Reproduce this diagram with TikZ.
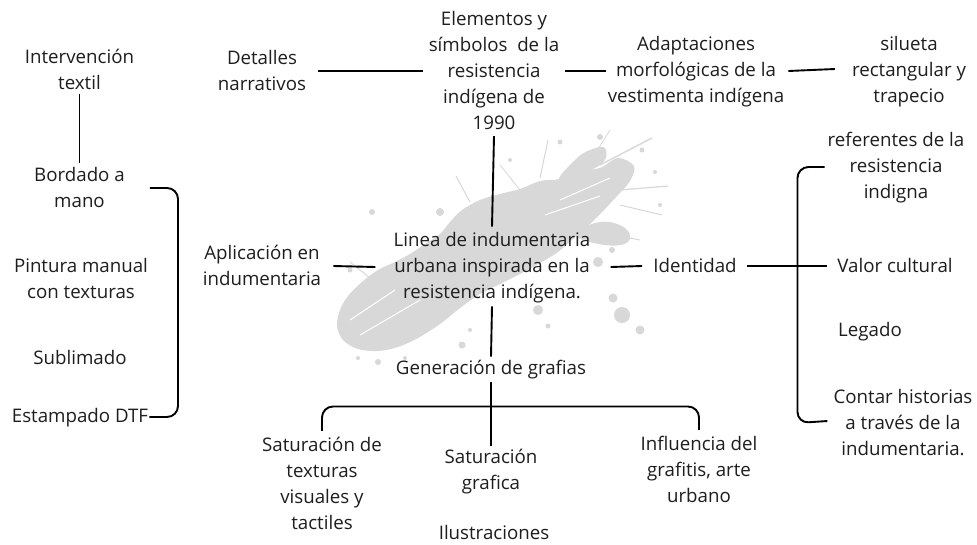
\documentclass[tikz,border=0pt]{standalone}
\usepackage{fontspec}
\setmainfont{Open Sans}
\usetikzlibrary{calc}
\definecolor{textgray}{HTML}{1E1E1E}
\definecolor{splash}{HTML}{D8D8D8}
\newcommand{\ls}{\vrule width0pt height16pt depth4pt}
\begin{document}
\begin{tikzpicture}[x=1pt,y=-1pt,
  txt/.style={font=\fontsize{18.7}{26}\selectfont, align=center, inner sep=0pt, text=textgray},
  ln/.style={line width=1.9pt, black},
  brk/.style={line width=1.9pt, black, rounded corners=11pt}]
\useasboundingbox[fill=white] (0,0) rectangle (977,544);

% ---- background splash ----
\begin{scope}[splash]
\fill plot[smooth cycle, tension=0.55] coordinates {
 (634,166) (618,158) (600,168) (580,171) (560,179) (540,181) (520,189)
 (500,194) (480,200) (462,210) (450,222) (440,234) (425,244) (410,254)
 (395,262) (378,270) (362,282) (348,296) (340,310) (337,326) (343,340)
 (358,349) (378,351) (398,347) (418,338) (440,324) (460,308)
 (480,294) (500,284) (520,274) (540,263) (558,252) (574,238) (590,224)
 (604,210) (618,195) (630,181)};
\fill plot[smooth cycle, tension=0.7] coordinates {
 (560,180) (575,160) (590,150) (605,148) (600,165)};
\fill plot[smooth cycle, tension=0.7] coordinates {
 (575,235) (600,222) (625,228) (628,242) (605,245)};
\fill (622,315) circle (8);
\fill (640,330) circle (4.5);
\fill (613,298) circle (4.5);
\fill (598,262) circle (5);
\fill (612,250) circle (3);
\fill (538,310) circle (5);
\fill (548,326) circle (2.5);
\fill (440,212) circle (4);
\fill (372,212) circle (3);
\fill (600,137) circle (3);
\fill (642,150) circle (2.5);
\fill (655,172) circle (2);
\fill (560,142) circle (2.5);
\fill (350,270) circle (2.5);
\fill (378,362) circle (3);
\fill (358,358) circle (2);
\fill (462,345) circle (3.5);
\fill (510,160) circle (2);
\fill (660,205) circle (2);
\fill (470,330) circle (2);
\fill (405,358) circle (2);
\draw[line width=1.4pt] (600,165) -- (652,138);
\draw[line width=1.2pt] (620,190) -- (668,186);
\draw[line width=1pt] (540,178) -- (548,140);
\draw[line width=1pt] (470,202) -- (456,176);
\draw[line width=1pt] (375,282) -- (350,262);
\draw[line width=1pt] (590,230) -- (640,240);
\draw[line width=1pt] (620,205) -- (662,215);
\draw[line width=0.8pt] (520,190) -- (500,165);
\draw[line width=0.8pt] (585,170) -- (610,130);
\end{scope}
% light streaks inside splash for texture
\begin{scope}[white, line width=1pt]
\draw (360,335) -- (420,300);
\draw (350,320) -- (395,290);
\draw (560,200) -- (610,178);
\draw (545,215) -- (600,196);
\end{scope}

% ---- nodes ----
\node[txt] (intv) at (79.5,70)  {\ls Intervención\\textil\ls};
\node[txt] (bord) at (79.5,188) {\ls Bordado a\\mano\ls};
\node[txt] (pint) at (81,279)   {\ls Pintura manual\\con texturas\ls};
\node[txt] (subl) at (80,358)   {\ls Sublimado\ls};
\node[txt] (estp) at (80,417)   {\ls Estampado DTF\ls};
\node[txt] (det)  at (262,71)   {\ls Detalles\\narrativos\ls};
\node[txt] (elem) at (494,71)   {\ls Elementos y\\símbolos\ \ de la\\resistencia\\indígena de\\1990\ls};
\node[txt] (adap) at (696,71)   {\ls Adaptaciones\\morfológicas de la\\vestimenta indígena\ls};
\node[txt] (silu) at (909,71)   {\ls silueta\\rectangular y\\trapecio\ls};
\node[txt] (apli) at (262,266)  {\ls Aplicación en\\indumentaria\ls};
\node[txt] (cent) at (492,267)  {\ls Linea de indumentaria\\urbana inspirada en la\\resistencia indígena.\ls};
\node[txt] (iden) at (695,266)  {\ls Identidad\ls};
\node[txt] (refe) at (896,167)  {\ls referentes de la\\resistencia\\indigna\ls};
\node[txt] (valo) at (895,266)  {\ls Valor cultural\ls};
\node[txt] (lega) at (870,331)  {\ls Legado\ls};
\node[txt] (cont) at (903,423)  {\ls Contar historias\\a través de la\\indumentaria.\ls};
\node[txt] (gene) at (491,369)  {\ls Generación de grafias\ls};
\node[txt] (satt) at (322,484)  {\ls Saturación de\\texturas\\visuales y\\tactiles\ls};
\node[txt] (satg) at (491,471)  {\ls Saturación\\grafica\ls};
\node[txt] (ilus) at (494,533)  {\ls Ilustraciones\ls};
\node[txt] (infl) at (699,470)  {\ls Influencia del\\grafitis, arte\\urbano\ls};

% ---- helper coordinates for brackets ----
\coordinate (lbx) at (178,0);
\coordinate (rbx) at (797.5,0);
\coordinate (bby) at (0,406.5);

% ---- connectors ----
\draw[ln] ($(intv.south)+(0,1)$) -- ($(bord.north)+(0,-2)$);
\draw[ln] ($(det.east)+(12,0)$) -- ($(elem.west)+(-6,0)$);
\draw[ln] ($(elem.east)+(6,0)$) -- ($(adap.west)+(-2,0)$);
\draw[ln] ($(adap.east)+(4,0)$) -- ($(silu.west)+(-17,-2)$);
\draw[ln] ($(elem.south)+(0,3)$) -- ($(cent.north)+(0,-4)$);
\draw[ln] ($(apli.east)+(12,0)$) -- ($(cent.west)+(-18,0)$);
\draw[ln] ($(cent.east)+(20,0)$) -- ($(iden.west)+(-11,0)$);
\draw[ln] ($(cent.south)+(0,3)$) -- ($(gene.north)+(0,-2)$);
\draw[ln] ($(gene.south)+(0,3)$) -- ($(satg.north)+(0,-2)$);
\draw[ln] ($(iden.east)+(10,0)$) -- ($(valo.west)+(-10,0)$);
% left bracket
\draw[brk] ($(bord.east)+(25,0)$) -| (lbx |- estp.east) -- ($(estp.east)+(1,0)$);
% right bracket
\draw[brk] ($(refe.west)+(-3,0)$) -| (rbx |- cont.west) -- ($(cont.west)+(-6,-2)$);
% bottom bracket
\draw[brk] ($(satt.north)+(0,-4)$) |- (bby -| satg) -| ($(infl.north)+(0,-4)$);
\end{tikzpicture}
\end{document}
